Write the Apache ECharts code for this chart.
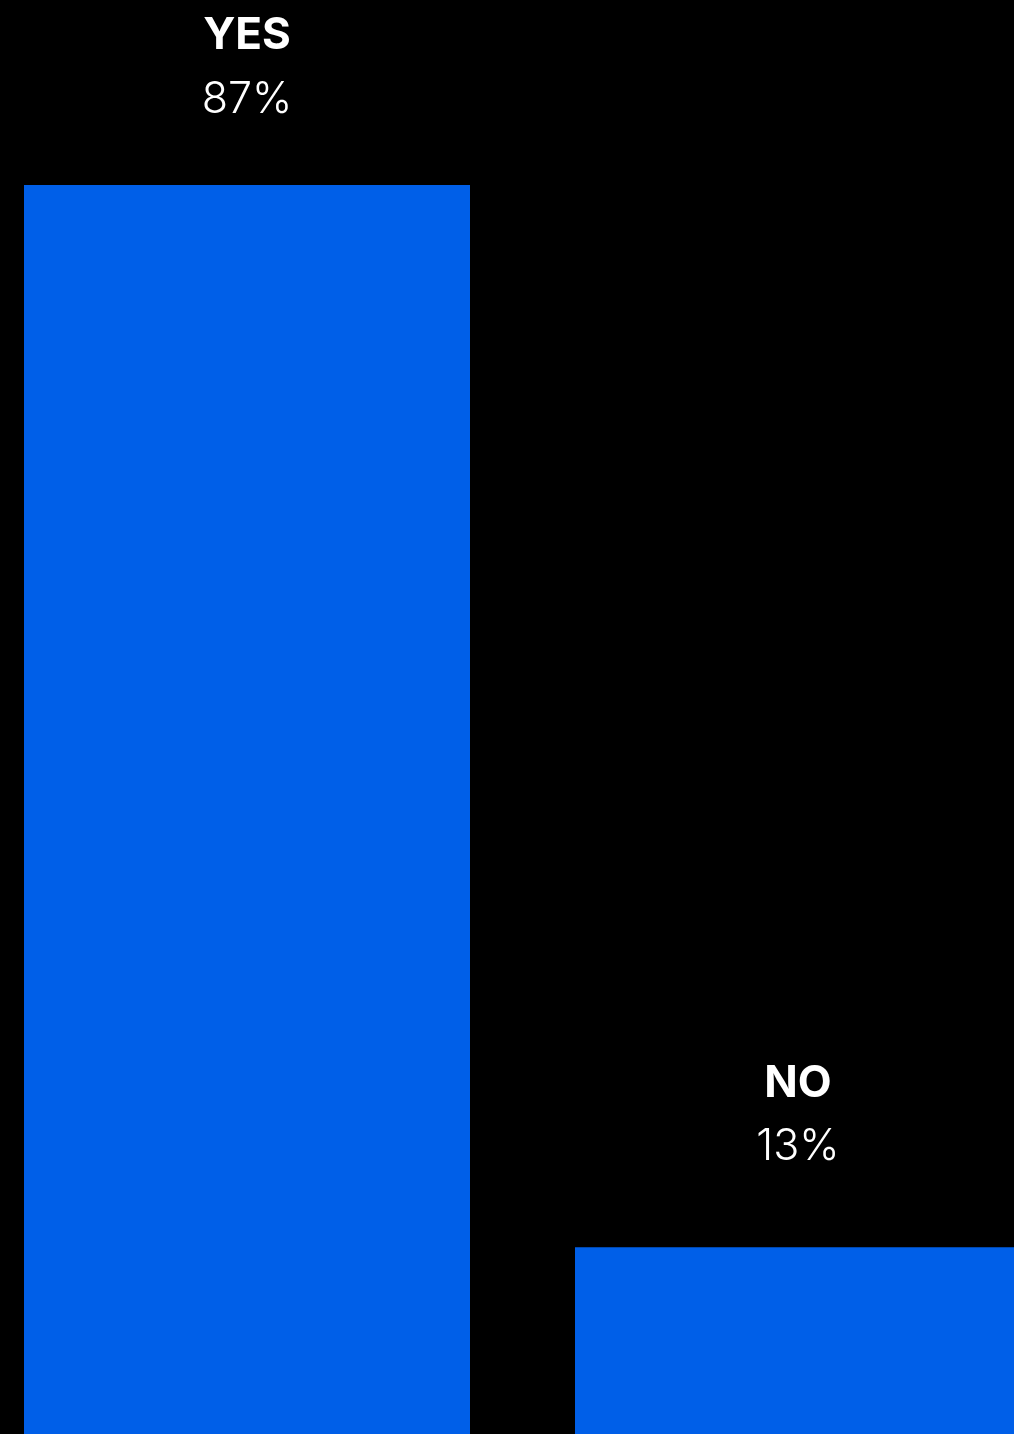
<!DOCTYPE html>
<html>
<head>
<meta charset="utf-8">
<script src="https://cdn.jsdelivr.net/npm/echarts@6/dist/echarts.min.js"></script>
<style>
  html, body { margin: 0; padding: 0; background: #000; }
  #chart { width: 1014px; height: 1434px; }
</style>
</head>
<body>
<div id="chart"></div>
<script>
// Survey answers and their shares (percent)
const categories = ['YES', 'NO'];
const shares = [87, 13];
const labelGaps = [53, 68];

const chart = echarts.init(document.getElementById('chart'), null, { renderer: 'canvas' });

chart.setOption({
  backgroundColor: '#000000',
  animation: false,
  // Category centres sit on the grid edges (boundaryGap: false)
  grid: { left: 247, right: 216, top: 185, bottom: 0, containLabel: false },
  xAxis: {
    type: 'category',
    data: categories,
    boundaryGap: false,
    show: false
  },
  yAxis: {
    type: 'value',
    min: 0,
    max: 87,
    show: false
  },
  series: [{
    type: 'bar',
    barWidth: 446,
    clip: false,
    itemStyle: { color: '#005FE8' },
    data: shares.map((v, i) => ({
      value: v,
      label: { distance: labelGaps[i] }
    })),
    label: {
      show: true,
      position: 'top',
      formatter: (p) => '{n|' + categories[p.dataIndex] + '}\n{v|' + p.value + '%}',
      rich: {
        n: {
          fontFamily: 'Inter',
          fontWeight: 'bold',
          fontSize: 44,
          color: '#ffffff',
          lineHeight: 64,
          align: 'center'
        },
        v: {
          fontFamily: 'Inter',
          fontWeight: 300,
          fontSize: 43,
          color: '#ffffff',
          lineHeight: 64,
          align: 'center'
        }
      }
    }
  }]
});
</script>
</body>
</html>
